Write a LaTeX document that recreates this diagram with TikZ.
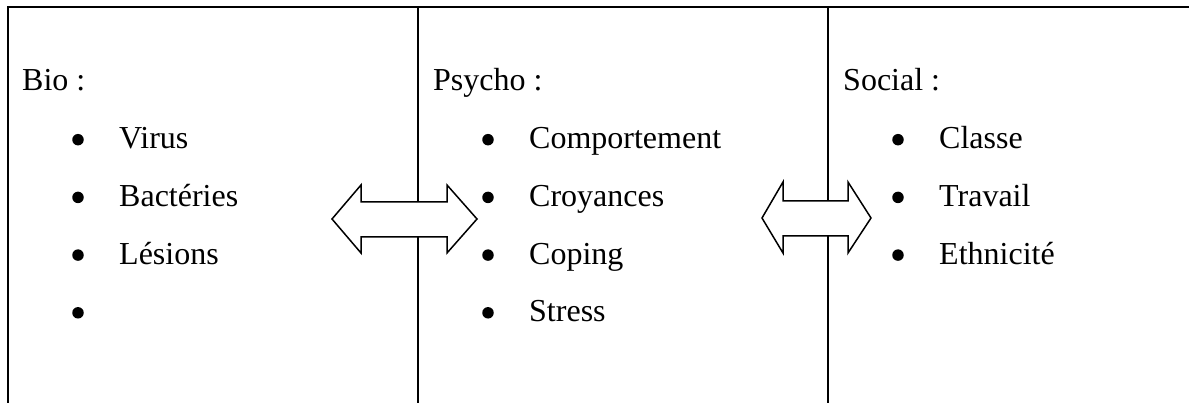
\documentclass[tikz,border=0pt]{standalone}
\usepackage{fontspec}
\setmainfont{Liberation Serif}
\usepackage{tikz}

\tikzset{
  titre/.style={anchor=base west, inner sep=0pt, font=\fontsize{32}{38}\selectfont},
  puce/.style={circle, fill=black, inner sep=0pt, minimum size=11.5pt},
  item/.style={anchor=base west, inner sep=0pt, font=\fontsize{32}{38}\selectfont},
  fleche/.style={draw, fill=white, line width=1.5pt, line join=miter}
}

\begin{document}
\begin{tikzpicture}[x=1pt,y=-1pt]
\useasboundingbox (0,0) rectangle (1189,403);
% cadre
\draw[line width=2.5pt] (8,403) -- (8,7) -- (1189,7);
\draw[line width=1.5pt] (418,7) -- (418,403);
\draw[line width=1.5pt] (828,7) -- (828,403);
% colonnes
\node[titre] (bio) at (22,91) {Bio :};
\node[titre] (psycho) at (433,91) {Psycho :};
\node[titre] (social) at (843,91) {Social :};
\foreach \txt [count=\i] in {Virus,Bactéries,Lésions,{}} {
  \node[puce] (biop\i) at (78,{82+57.7*\i}) {};
  \node[item] (bio\i) at (119,{91+57.7*\i}) {\txt};
}
\foreach \txt [count=\i] in {Comportement,Croyances,Coping,Stress} {
  \node[puce] (psychop\i) at (488,{82+57.7*\i}) {};
  \node[item] (psycho\i) at (529,{91+57.7*\i}) {\txt};
}
\foreach \txt [count=\i] in {Classe,Travail,Ethnicité} {
  \node[puce] (socialp\i) at (898,{82+57.7*\i}) {};
  \node[item] (social\i) at (939,{91+57.7*\i}) {\txt};
}
% fleches doubles
\filldraw[fleche] (332,219) -- (361,185) -- (361,202) -- (447,202) -- (447,185) -- (477,219)
  -- (447,253) -- (447,237) -- (361,237) -- (361,253) -- cycle;
\filldraw[fleche] (762,218) -- (783,182) -- (783,201) -- (848,201) -- (848,182) -- (871,218)
  -- (848,253) -- (848,236) -- (783,236) -- (783,253) -- cycle;
\end{tikzpicture}
\end{document}
